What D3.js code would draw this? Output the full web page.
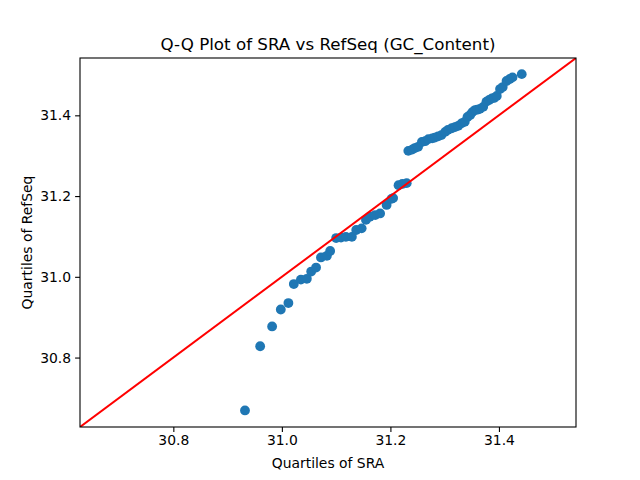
<!DOCTYPE html>
<html>
<head>
<meta charset="utf-8">
<script src="https://cdn.jsdelivr.net/npm/d3@7"></script>
<style>
  body { margin: 0; background: #fff; }
  text { font-family: "DejaVu Sans", sans-serif; fill: #000; }
</style>
</head>
<body>
<div id="chart"></div>
<script>
// Quantiles of SRA (x) vs RefSeq (y), GC content
var sraQuantiles = [
  30.932, 30.960, 30.982, 30.998, 31.012, 31.022, 31.035, 31.046, 31.054, 31.063,
  31.072, 31.083, 31.089, 31.100, 31.109, 31.118, 31.129, 31.137, 31.147, 31.155,
  31.162, 31.172, 31.181, 31.193, 31.202, 31.205, 31.215, 31.222, 31.230, 31.233,
  31.240, 31.245, 31.251, 31.258, 31.264, 31.270, 31.277, 31.282, 31.288, 31.294,
  31.301, 31.306, 31.313, 31.319, 31.325, 31.331, 31.337, 31.342, 31.347, 31.351,
  31.356, 31.360, 31.365, 31.371, 31.377, 31.382, 31.387, 31.391, 31.396, 31.402,
  31.407, 31.414, 31.420, 31.425, 31.442
];
var refseqQuantiles = [
  30.669, 30.828, 30.877, 30.919, 30.935, 30.982, 30.993, 30.995, 31.013, 31.023,
  31.048, 31.052, 31.064, 31.096, 31.097, 31.099, 31.099, 31.116, 31.120, 31.141,
  31.149, 31.153, 31.157, 31.178, 31.193, 31.195, 31.227, 31.230, 31.232, 31.312,
  31.315, 31.319, 31.322, 31.334, 31.336, 31.341, 31.343, 31.345, 31.348, 31.351,
  31.359, 31.364, 31.368, 31.371, 31.374, 31.380, 31.384, 31.396, 31.401, 31.408,
  31.413, 31.414, 31.416, 31.421, 31.434, 31.438, 31.442, 31.443, 31.448, 31.465,
  31.470, 31.485, 31.490, 31.494, 31.502
];
var xTicks = [30.8, 31.0, 31.2, 31.4];
var yTicks = [30.8, 31.0, 31.2, 31.4];
var axisRange = [30.628, 31.542];

var width = 640, height = 480;
var margin = { left: 80, right: 64, top: 58, bottom: 53 };

var svg = d3.select("#chart").append("svg")
    .attr("width", width)
    .attr("height", height);

var x = d3.scaleLinear().domain(axisRange).range([margin.left, width - margin.right]);
var y = d3.scaleLinear().domain(axisRange).range([height - margin.bottom, margin.top]);

svg.append("defs").append("clipPath").attr("id", "plotClip")
   .append("rect")
   .attr("x", margin.left).attr("y", margin.top)
   .attr("width", width - margin.left - margin.right)
   .attr("height", height - margin.top - margin.bottom);

var points = sraQuantiles.map(function(d, i) { return { x: d, y: refseqQuantiles[i] }; });

svg.append("g").attr("clip-path", "url(#plotClip)")
   .selectAll("circle")
   .data(points)
   .enter().append("circle")
   .attr("cx", d => x(d.x))
   .attr("cy", d => y(d.y))
   .attr("r", 4.9)
   .attr("fill", "#1f77b4");

// y = x reference line
svg.append("g").attr("clip-path", "url(#plotClip)")
   .append("line")
   .attr("x1", x(axisRange[0])).attr("y1", y(axisRange[0]))
   .attr("x2", x(axisRange[1])).attr("y2", y(axisRange[1]))
   .attr("stroke", "#ff0000")
   .attr("stroke-width", 2);

var xAxis = svg.append("g")
    .attr("transform", "translate(0," + (height - margin.bottom) + ")")
    .call(d3.axisBottom(x).tickValues(xTicks).tickFormat(d3.format(".1f")).tickSize(4.9).tickPadding(3));
var yAxis = svg.append("g")
    .attr("transform", "translate(" + margin.left + ",0)")
    .call(d3.axisLeft(y).tickValues(yTicks).tickFormat(d3.format(".1f")).tickSize(4.9).tickPadding(4));

[xAxis, yAxis].forEach(function(g) {
    g.select(".domain").remove();
    g.selectAll(".tick line").attr("stroke", "#000").attr("stroke-width", 1.1);
    g.selectAll(".tick text").style("font-size", "13.9px").attr("fill", "#000");
});

// frame
svg.append("rect")
   .attr("x", margin.left).attr("y", margin.top)
   .attr("width", width - margin.left - margin.right)
   .attr("height", height - margin.top - margin.bottom)
   .attr("fill", "none")
   .attr("stroke", "#000")
   .attr("stroke-width", 1.1);

svg.append("text")
   .attr("x", (margin.left + width - margin.right) / 2)
   .attr("y", 50)
   .attr("text-anchor", "middle")
   .style("font-size", "16.7px")
   .text("Q-Q Plot of SRA vs RefSeq (GC_Content)");

svg.append("text")
   .attr("x", (margin.left + width - margin.right) / 2)
   .attr("y", 468)
   .attr("text-anchor", "middle")
   .style("font-size", "13.9px")
   .text("Quartiles of SRA");

svg.append("text")
   .attr("transform", "translate(32," + ((margin.top + height - margin.bottom) / 2) + ") rotate(-90)")
   .attr("text-anchor", "middle")
   .style("font-size", "13.9px")
   .text("Quartiles of RefSeq");
</script>
</body>
</html>
